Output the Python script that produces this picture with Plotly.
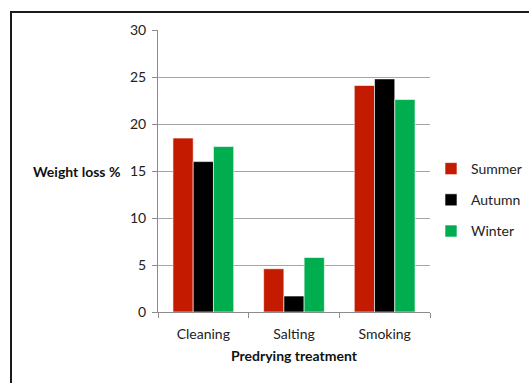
import plotly.graph_objects as go

# Weight loss (%) by predrying treatment and season
treatments = ["Cleaning", "Salting", "Smoking"]
seasons = ["Summer", "Autumn", "Winter"]
summer = [18.5, 4.6, 24.1]
autumn = [16.0, 1.7, 24.8]
winter = [17.6, 5.8, 22.6]
colors = ["#C31A00", "#000000", "#00AE50"]
y_ticks = [0, 5, 10, 15, 20, 25, 30]

fig = go.Figure()
for name, vals, col in zip(seasons, [summer, autumn, winter], colors):
    fig.add_trace(go.Bar(
        x=treatments, y=vals, name=name, legendgroup=name,
        marker=dict(color=col, line=dict(color="white", width=0.6)),
    ))

W, H = 529, 383
L, R, T, B = 158, 99, 30, 71
pw, ph = W - L - R, H - T - B

def px_x(x):
    return (x - L) / pw

def px_y(y):
    return (H - B - y) / ph

fig.update_layout(
    width=W, height=H,
    margin=dict(l=L, r=R, t=T, b=B, autoexpand=False),
    paper_bgcolor="white", plot_bgcolor="white",
    font=dict(family="Lato, 'Open Sans', sans-serif", size=14, color="#222"),
    barmode="group", bargap=0.33, bargroupgap=0,
    showlegend=True,
    legend=dict(x=px_x(431), y=px_y(153), xanchor="left", yanchor="top",
                font=dict(size=14, color="#222"), tracegroupgap=10,
                itemwidth=30, bgcolor="rgba(0,0,0,0)"),
    xaxis=dict(
        showline=True, linecolor="#8c8c8c", linewidth=1,
        ticks="outside", tickson="boundaries", ticklen=5, tickcolor="#8c8c8c",
        tickfont=dict(size=14, color="#222"), ticklabelstandoff=9,
        title=dict(text="<b>Predrying treatment</b>", font=dict(size=14, color="#111"), standoff=10),
    ),
    yaxis=dict(
        range=[0, 30], tickvals=y_ticks,
        showgrid=True, gridcolor="#a6a6a6", gridwidth=1,
        showline=True, linecolor="#8c8c8c", linewidth=1,
        ticks="outside", ticklen=5, tickcolor="#8c8c8c",
        tickfont=dict(size=14, color="#222"), ticklabelstandoff=3,
        zeroline=False,
    ),
    annotations=[dict(
        text="<b>Weight loss %</b>", xref="paper", yref="paper",
        x=px_x(122), y=px_y(171), xanchor="right", yanchor="middle",
        showarrow=False, font=dict(size=14, color="#111"),
    )],
    shapes=[dict(
        type="rect", xref="paper", yref="paper", layer="above",
        x0=px_x(11), x1=px_x(545), y0=px_y(400), y1=px_y(12),
        line=dict(color="#1a1a1a", width=2),
    )],
)

fig.write_html("out.html")
